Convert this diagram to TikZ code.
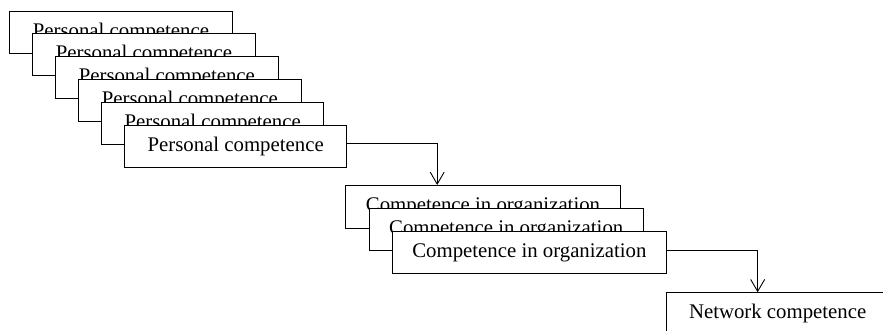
\documentclass[tikz,border=0pt]{standalone}
\usepackage{fontspec}
\setmainfont{Liberation Serif}
\usetikzlibrary{arrows.meta}

\begin{document}
\begin{tikzpicture}[x=1pt, y=-1pt,
    card/.style={draw, fill=white, line width=0.9pt, inner sep=0pt, anchor=north west, font=\fontsize{20.8}{25}\selectfont},
    pcard/.style={card, minimum width=222.4pt, minimum height=42pt},
    ocard/.style={card, minimum width=274.5pt, minimum height=42.5pt},
    flow/.style={line width=0.9pt, -{Straight Barb[length=12pt, width=14pt]}}]
        \useasboundingbox (0,0) rectangle (883,331);
        \clip (0,0) rectangle (883,331);
        \node[pcard] (p1) at (9.3,10.7) {Personal competence};
        \node[pcard] (p2) at (32.3,33.5) {Personal competence};
        \node[pcard] (p3) at (55.2,56.3) {Personal competence};
        \node[pcard] (p4) at (78.2,79.1) {Personal competence};
        \node[pcard] (p5) at (101,101.9) {Personal competence};
        \node[pcard] (p6) at (124,124.7) {Personal competence};
        \node[ocard] (o1) at (345.3,185) {Competence in organization};
        \node[ocard] (o2) at (368.5,207.8) {Competence in organization};
        \node[ocard] (o3) at (391.7,230.7) {Competence in organization};
        \node[pcard] (n) at (666,292.3) {Network competence};
        \draw[flow] ([yshift=2.4pt]p6.east) -| ([xshift=-45.8pt]o1.north);
        \draw[flow] ([yshift=2pt]o3.east) -| ([xshift=-20pt]n.north);
    \end{tikzpicture}
\end{document}
